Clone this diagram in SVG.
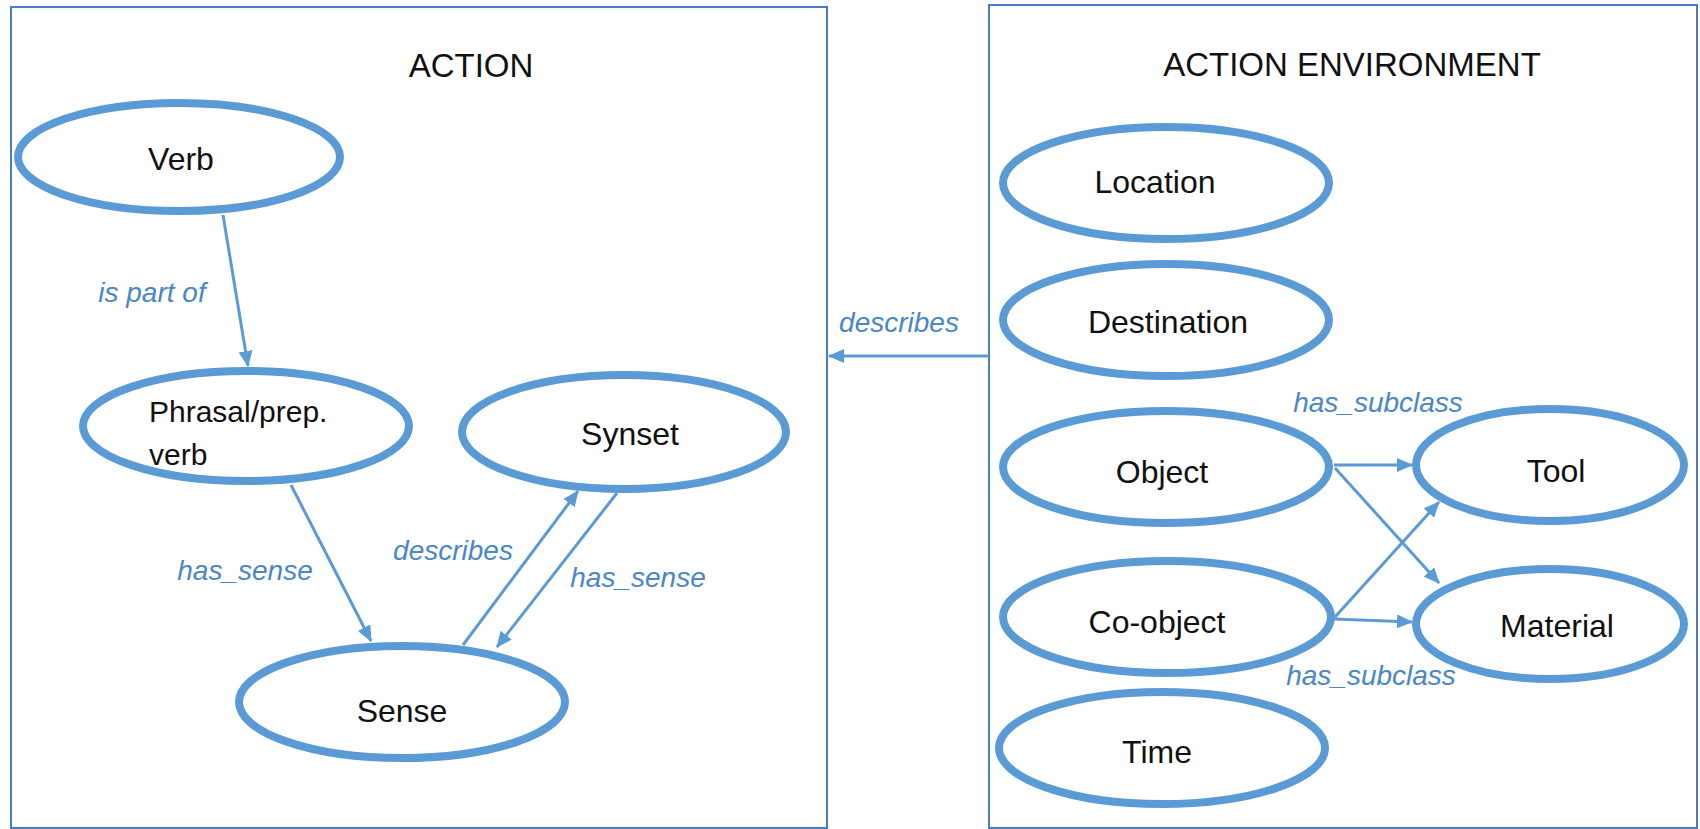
<svg xmlns="http://www.w3.org/2000/svg" width="1700" height="829" viewBox="0 0 1700 829">
  <style>
    .frame { fill: none; stroke: #4a7bc8; stroke-width: 2; }
    .title { font-family: "Liberation Sans", Arial, sans-serif; font-size: 33px; fill: #111; text-anchor: middle; }
    .node ellipse { fill: #fff; stroke: #5b9bd5; stroke-width: 8; }
    .node text { font-family: "Liberation Sans", Arial, sans-serif; font-size: 32px; fill: #111; text-anchor: middle; }
    .edge { fill: none; stroke: #5b9bd5; stroke-width: 3; marker-end: url(#arrow); }
    .label { font-family: "Liberation Sans", Arial, sans-serif; font-size: 28px; font-style: italic; fill: #4a86c8; text-anchor: middle; }
  </style>
  <defs>
    <marker id="arrow" markerUnits="userSpaceOnUse" markerWidth="16" markerHeight="14" refX="15" refY="7" orient="auto">
      <path d="M0,0 L16,7 L0,14 z" fill="#5b9bd5"/>
    </marker>
  </defs>

  <rect width="1700" height="829" fill="#fff"/>

  <!-- container frames -->
  <g id="action-frame">
    <rect class="frame" x="11" y="7" width="816" height="821"/>
    <text class="title" x="471" y="77">ACTION</text>
  </g>
  <g id="environment-frame">
    <rect class="frame" x="989" y="5" width="708" height="823"/>
    <text class="title" x="1352" y="76">ACTION ENVIRONMENT</text>
  </g>

  <!-- connectors -->
  <g id="connectors">
    <path class="edge" d="M223,215 L248,366"/>
    <path class="edge" d="M291,485 L371,641"/>
    <path class="edge" d="M463,645 L578,491"/>
    <path class="edge" d="M617,493 L497,647"/>
    <path class="edge" d="M989,356 L829,356"/>
    <path class="edge" d="M1334,465 L1412,465"/>
    <path class="edge" d="M1335,468 L1439,583"/>
    <path class="edge" d="M1335,617 L1439,502"/>
    <path class="edge" d="M1334,619 L1412,622"/>
    <text class="label" x="152" y="302">is part of</text>
    <text class="label" x="245" y="580">has_sense</text>
    <text class="label" x="453" y="560">describes</text>
    <text class="label" x="638" y="587">has_sense</text>
    <text class="label" x="899" y="332">describes</text>
    <text class="label" x="1378" y="412">has_subclass</text>
    <text class="label" x="1371" y="685">has_subclass</text>
  </g>

  <!-- ACTION nodes -->
  <g id="verb" class="node">
    <ellipse cx="179" cy="157" rx="161" ry="54"/>
    <text x="181" y="170">Verb</text>
  </g>
  <g id="phrasal-verb" class="node">
    <ellipse cx="246" cy="426" rx="163" ry="55"/>
    <text x="149" y="422" style="text-anchor:start;font-size:30px">Phrasal/prep.</text>
    <text x="149" y="465" style="text-anchor:start;font-size:30px">verb</text>
  </g>
  <g id="synset" class="node">
    <ellipse cx="624" cy="432" rx="162" ry="57"/>
    <text x="630" y="445">Synset</text>
  </g>
  <g id="sense" class="node">
    <ellipse cx="402" cy="702" rx="163" ry="56"/>
    <text x="402" y="722">Sense</text>
  </g>

  <!-- ACTION ENVIRONMENT nodes -->
  <g id="location" class="node">
    <ellipse cx="1166" cy="183" rx="163" ry="56"/>
    <text x="1155" y="193">Location</text>
  </g>
  <g id="destination" class="node">
    <ellipse cx="1166" cy="320" rx="163" ry="56"/>
    <text x="1168" y="333">Destination</text>
  </g>
  <g id="object" class="node">
    <ellipse cx="1166" cy="467" rx="163" ry="56"/>
    <text x="1162" y="483">Object</text>
  </g>
  <g id="co-object" class="node">
    <ellipse cx="1167" cy="617" rx="164" ry="56"/>
    <text x="1157" y="633">Co-object</text>
  </g>
  <g id="time" class="node">
    <ellipse cx="1162" cy="748" rx="163" ry="56"/>
    <text x="1157" y="763">Time</text>
  </g>
  <g id="tool" class="node">
    <ellipse cx="1550" cy="465" rx="134" ry="56"/>
    <text x="1556" y="482">Tool</text>
  </g>
  <g id="material" class="node">
    <ellipse cx="1550" cy="624" rx="134" ry="55"/>
    <text x="1557" y="637">Material</text>
  </g>
</svg>
